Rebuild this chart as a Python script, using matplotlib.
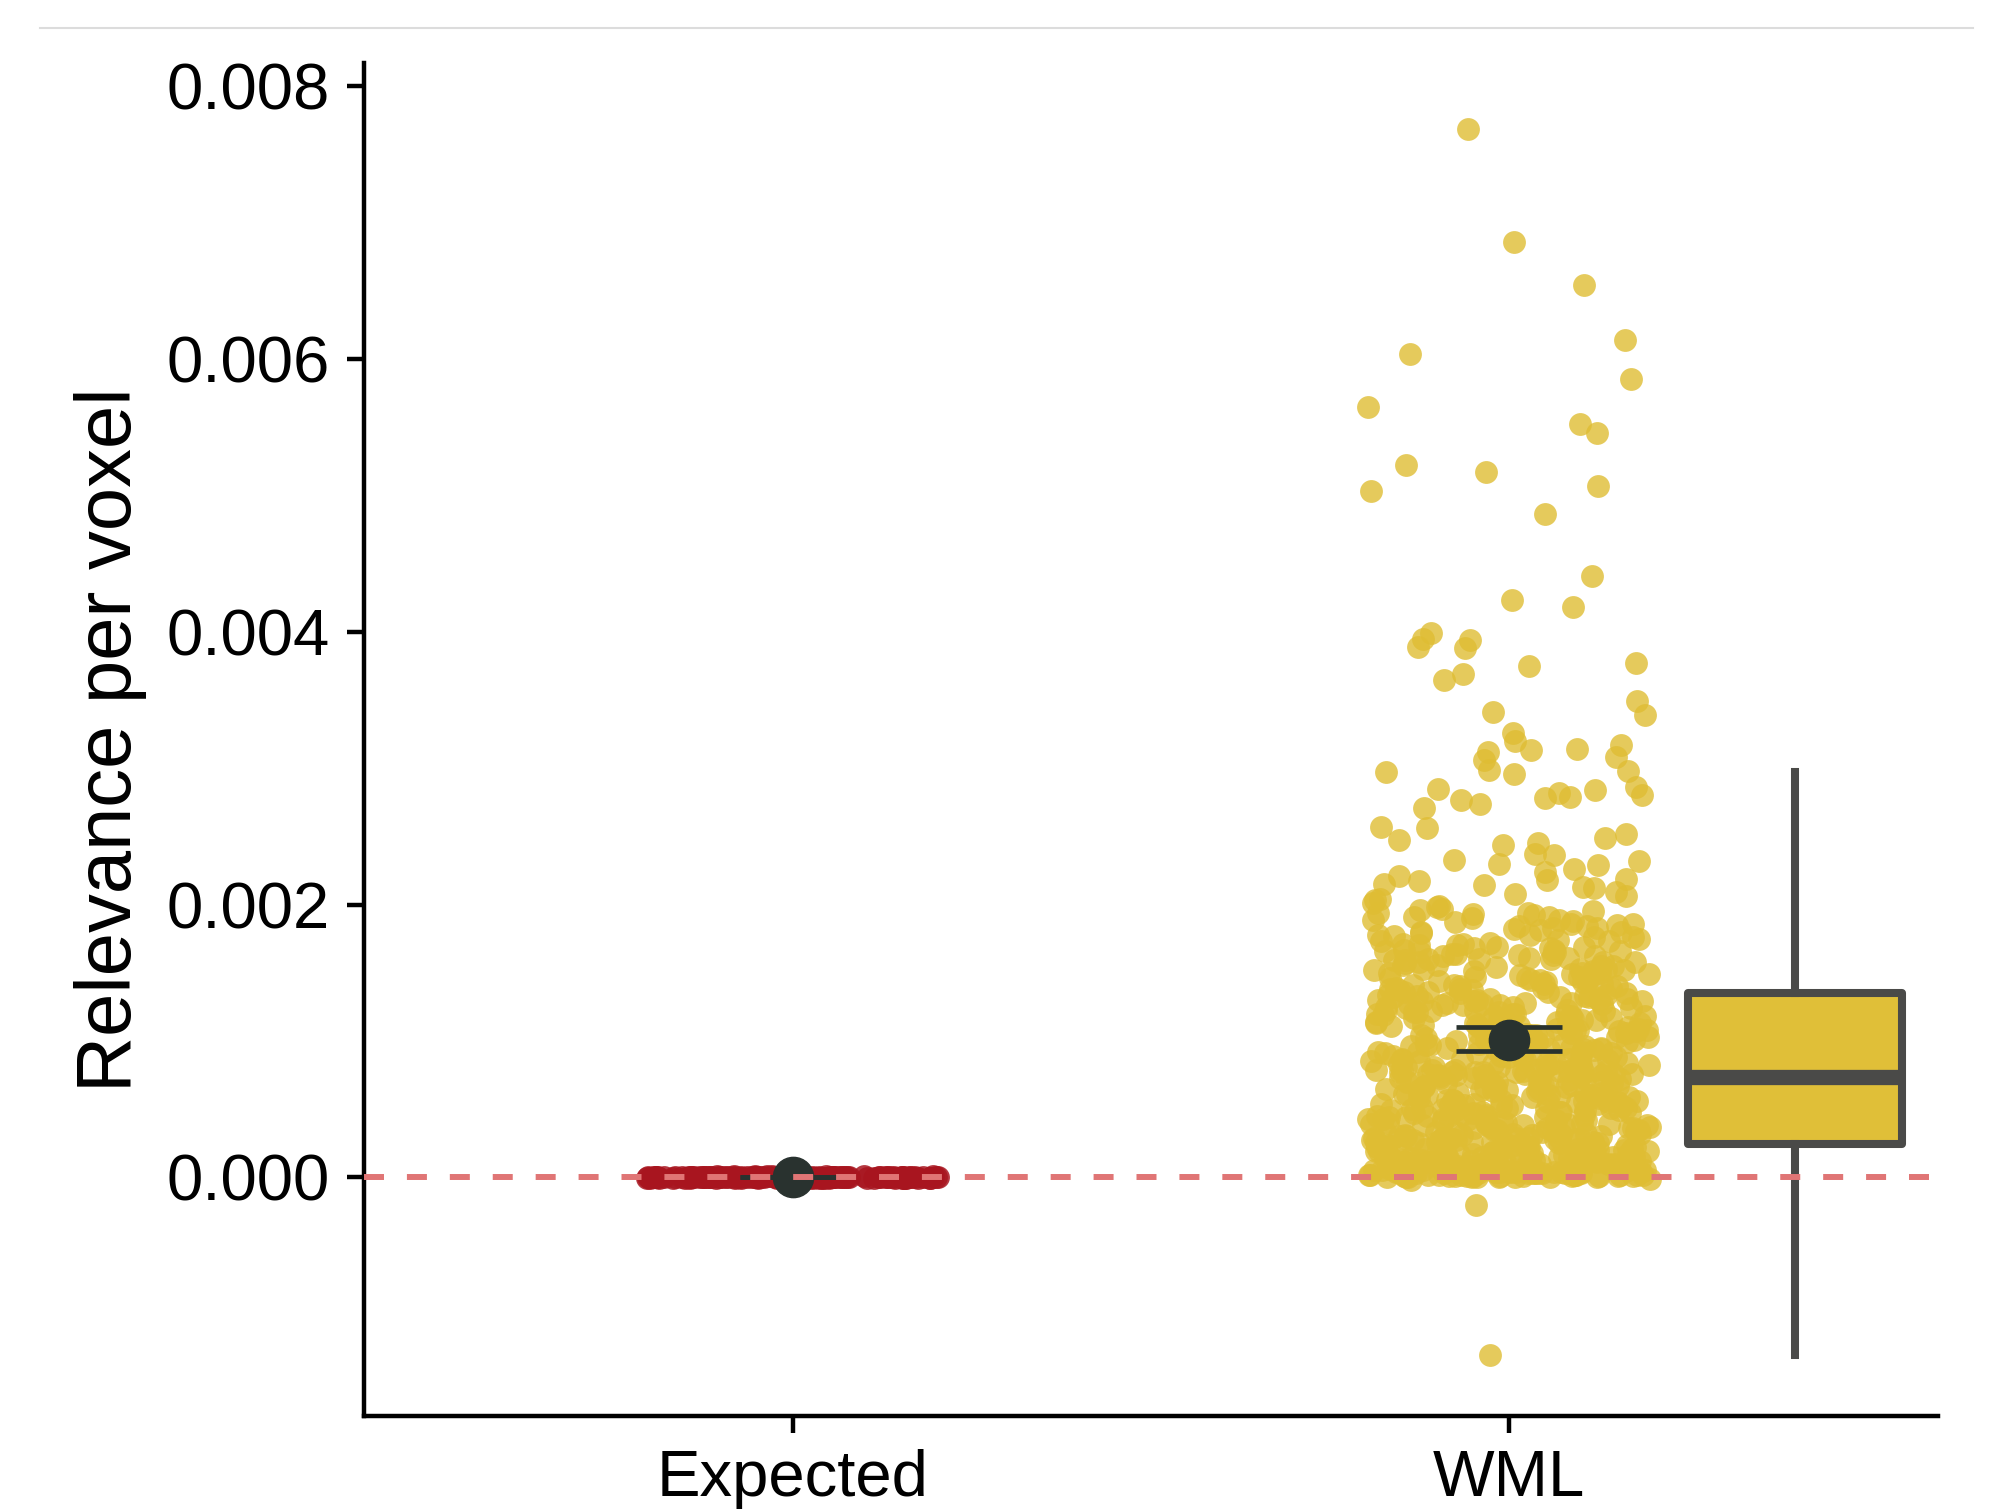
import matplotlib
matplotlib.use('Agg')
import matplotlib.pyplot as plt
import numpy as np
from matplotlib.lines import Line2D
from matplotlib.ticker import FormatStrFormatter

plt.rcParams['font.family'] = ['Liberation Sans', 'DejaVu Sans']

categories = ['Expected', 'WML']

# значения в единицах 1e-4 (потом умножаем)
wml_sparse = [76.9, 68.6, 65.4, 61.4, 60.4, 58.5, 56.5, 55.2, 54.6, 52.2, 51.7, 50.7, 50.3,
              48.6, 44.1, 42.3, 41.8, 39.9, 39.5, 39.4, 38.9, 38.8, 37.7, 37.5, 36.9, 36.5,
              34.9, 34.1, 33.9, 32.6, 32.0, 31.7, 31.4, 31.3, 31.2, 30.8, 30.6, 29.8, 29.7,
              29.9, 29.6, 28.6, 28.5, 28.4, 28.2, 27.9, 27.8, 28.0, 27.7, 27.4, 27.1, 25.7,
              25.6, 25.2, 24.9, 24.7, 24.5, 24.4, 23.7, 23.6, 23.3, 23.2, 23.0, 22.4, 21.8,
              21.7, 21.5, 21.4, 21.3,
              22.9, 22.6, 22.1, 21.9, 21.2, 20.9, 20.8, 20.6, 20.4, 20.3, 20.1, 19.9, 19.8,
              19.6, 19.4, 19.4, 19.2, 19.1, 18.9, 18.9, 18.7, 18.6, 18.4, 18.3, 18.3, 18.1,
              18.0, 17.8, 17.8, 17.6, 17.5, 17.3, 17.3, 17.1, 17.0]

wml_upper = [13.7, 14.2, 15.1, 16.4, 13.9, 14.8, 15.6, 16.9, 14.0, 15.3, 16.1, 13.6, 14.5,
             15.9, 16.7, 14.3, 15.0, 16.2, 13.8, 14.9, 15.5, 16.6, 14.1, 15.2, 16.0, 13.6,
             14.6, 15.8, 16.8, 14.4, 15.4, 16.3, 13.9, 14.7, 15.7, 16.5, 14.2, 15.1, 13.7,
             14.8, 16.0, 15.6, 14.0, 16.9, 13.8, 15.3, 14.5, 16.4, 15.0, 14.3, 13.6, 15.9,
             16.7, 14.6, 15.2, 16.2, 14.1, 15.8, 13.9, 16.5,
             17.2, 18.5, 19.3, 16.1, 17.7, 18.8, 14.4, 15.5, 17.4, 19.0, 16.6, 18.2, 15.0,
             17.9, 19.7, 16.3, 14.7, 18.0, 17.1, 15.8, 19.5, 16.8, 18.6, 14.9, 17.6, 15.3,
             18.4, 16.0, 19.1, 17.0]

wml_mid = [7.6, 9.2, 11.8, 8.3, 12.9, 10.1, 7.9, 13.4, 9.7, 11.2, 8.8, 10.6, 12.3, 7.5, 9.9,
           13.0, 8.1, 11.5, 10.3, 12.7, 7.8, 9.4, 11.0, 8.6, 13.2, 10.8, 7.7, 12.1, 9.0, 11.7,
           8.4, 10.4, 13.5, 7.6, 9.6, 12.5, 8.9, 11.3, 10.0, 7.9, 12.8, 9.3, 11.9, 8.2, 10.7,
           13.1, 7.5, 9.8, 12.2, 8.7, 11.4, 10.2, 7.8, 13.3, 9.1, 11.6, 8.5, 10.9, 12.6, 7.7,
           9.5, 12.0, 8.0, 11.1, 10.5, 13.4, 7.6, 9.2, 12.4, 8.3, 11.8, 10.1, 7.9, 12.9, 9.7,
           11.2, 8.8, 10.6, 13.0, 7.5, 9.9, 12.3, 8.1, 11.5, 10.3, 7.8, 12.7, 9.4, 11.0, 8.6,
           13.2, 10.8, 7.7, 12.1, 9.0, 11.7, 8.4, 10.4, 13.5, 7.6, 9.6, 12.5, 8.9, 11.3, 10.0,
           7.9, 12.8, 9.3, 11.9, 8.2, 10.7, 13.1, 7.5, 9.8, 12.2, 8.7, 11.4, 10.2, 7.8, 13.3,
           9.1, 11.6, 8.5, 10.9, 12.6, 7.7, 9.5, 12.0, 8.0, 11.1, 10.5, 7.6, 12.4, 9.2, 11.8,
           8.3, 10.1, 13.4, 7.9, 9.7, 12.9, 8.8, 11.2, 10.6, 7.5, 12.3, 9.9, 11.5, 8.1, 10.3,
           13.0, 7.8, 9.4, 12.7, 8.6, 11.0, 10.8, 7.7, 12.1,
           8.2, 10.9, 12.6, 9.5, 11.3, 7.8, 13.2, 10.0, 8.7, 12.0, 9.1, 11.7, 10.4, 12.8, 8.4]

wml_low = [2.5, 3.1, 4.6, 6.2, 2.8, 5.3, 7.1, 3.7, 4.2, 6.8, 2.6, 5.9, 3.4, 4.9, 7.3, 2.9,
           5.5, 6.4, 3.2, 4.0, 6.9, 2.7, 5.1, 3.8, 4.4, 7.0, 3.0, 5.7, 6.1, 3.5, 4.7, 2.5,
           6.6, 5.2, 3.9, 7.2, 4.3, 2.8, 5.8, 6.3, 3.3, 4.8, 2.6, 6.0, 5.4, 3.6, 7.4, 4.1,
           2.9, 5.0, 6.7, 3.2, 4.5, 5.6, 2.7, 6.5, 3.8, 4.2, 7.1, 5.1, 3.0, 6.2, 4.9, 2.5,
           5.9, 3.4, 6.8, 4.6, 2.8, 5.3, 7.3, 3.7, 4.0, 6.1, 2.6, 5.5, 3.1, 4.4, 6.9, 5.7,
           3.5, 2.9, 6.4, 4.7, 5.2, 3.9, 7.0, 2.7, 4.3, 6.0, 5.8, 3.3, 4.8, 6.6, 2.5, 5.0,
           3.6, 7.2, 4.1, 5.4, 2.8, 6.3, 3.2, 4.5, 5.6, 6.7, 3.0, 4.9, 2.6, 6.2, 5.1, 3.8,
           7.1, 4.2, 5.9, 2.9, 3.4, 6.5, 4.6, 5.3, 2.7, 6.8, 3.7, 4.0, 5.5, 7.4, 3.1, 4.4,
           6.1, 2.5, 5.7, 3.5, 4.7, 6.9, 5.2, 2.8, 3.9, 6.4, 4.3, 5.8, 3.3, 7.0, 2.6, 4.8,
           6.0, 5.0, 3.6, 4.1, 6.6, 2.9, 5.4, 7.3, 3.2, 4.5,
           3.8, 6.1, 4.9, 2.7, 5.6, 7.0, 3.3, 4.4, 6.5, 5.1, 2.9, 4.0, 6.8, 5.5, 3.6]

wml_bottom = [0.1, 0.3, 0.0, 0.5, 1.2, 0.8, 2.1, 0.2, 1.6, 0.4, 0.9, 1.9, 0.1, 0.6, 2.3, 1.1,
              0.3, 0.7, 1.4, 0.0, 0.2, 1.8, 0.5, 1.0, 2.2, 0.4, 0.8, 1.3, 0.1, 0.6, 1.7, 2.0,
              0.3, 0.9, 1.5, 0.2, 0.0, 1.2, 0.7, 2.4, 0.5, 1.1, 0.1, 1.6, 0.4, 0.8, 1.9, 0.3,
              1.4, 0.6, 2.1, 0.2, 1.0, 0.0, 1.7, 0.9, 0.4, 1.3, 2.3, 0.1, 0.5, 1.8, 0.7, 1.1,
              0.3, 2.0, 0.6, 1.5, 0.2, 0.9, 1.2, 0.0, 1.6, 0.4, 2.2, 0.8, 0.1, 1.4, 0.5, 1.9,
              0.3, 1.0, 0.7, 2.4, 0.2, 1.3, 0.6, 1.7, 0.0, 0.9, 1.1, 0.4, 2.1, 0.8, 1.5, 0.1,
              0.5, 1.8, 0.3, 1.2, 0.6, 2.0, 0.2, 1.0, 0.7, 1.6, 0.4, 2.3, 0.9, 0.0, 1.4, 0.5,
              1.1, 0.1, 1.9, 0.8, 0.3, 1.3, 2.2, 0.6, 1.7, 0.2, 1.0, 0.4, 1.5, 0.7, 2.4, 0.1,
              0.9, 1.2, 0.5, 1.8, 0.3, 2.1, 0.0, 1.4, 0.6, 1.1, 0.2, 1.6, 0.8, 2.0, 0.4, 1.3,
              0.7, 0.1, 1.9, 0.5, 1.0, 2.2, 0.3, 1.7, 0.9, 0.2, 1.5, -0.1, -0.2, 0.0,
              0.6, 1.3, 0.2, 1.9, 0.8, 0.4, 1.5, 2.2, 0.1, 1.0, 0.7, 1.7, 0.3, 2.0, 1.1,
              -2.0, -13.0]

# Expected: почти ноль, в единицах 1e-5
expected_vals = [0.0, 0.4, -0.3, 0.1, 0.6, -0.5, 0.2, -0.1, 0.3, 0.0, -0.4, 0.5, 0.1, -0.2,
                 0.7, -0.6, 0.2, 0.0, -0.3, 0.4, 0.1, -0.1, 0.6, -0.5, 0.3, 0.0, -0.2, 0.5,
                 0.2, -0.4, 0.1, 0.0, -0.6, 0.4, 0.3, -0.1, 0.7, -0.3, 0.2, 0.0, 0.5, -0.5,
                 0.1, -0.2, 0.3, 0.6, -0.4, 0.0, 0.2, -0.1, 0.4, -0.3, 0.1, 0.5, -0.6, 0.0,
                 0.3, -0.2, 0.7, 0.2, -0.4, 0.1, 0.0, -0.5, 0.4, 0.6, -0.1, 0.3, -0.3, 0.2,
                 0.0, 0.5, -0.2, 0.1, -0.6, 0.4, 0.0, 0.3, -0.4, 0.2, 0.1, -0.2, 0.5, 0.0,
                 -0.5, 0.3, 0.2, -0.1, 0.6, -0.3, 0.0, 0.4, -0.6, 0.1, 0.2, -0.4,
                 0.3, -0.1, 0.5, 0.0, -0.3, 0.2, 0.6, -0.5, 0.1, 0.4, -0.2, 0.0]

# среднее и доверительный интервал
means = [0.0, 0.00101]
ci_low = [0.0, 0.000925]
ci_high = [0.0, 0.00110]

# статистика бокса для WML
box_stats = {'med': 0.000733, 'q1': 0.000242, 'q3': 0.00135,
             'whislo': -0.0013, 'whishi': 0.00297, 'fliers': []}

wml = np.array(wml_sparse + wml_upper + wml_mid + wml_low + wml_bottom) * 1e-4
expected = np.array(expected_vals) * 1e-5

yellow = '#DFBD33'
red = '#A8151F'
dark = '#29322F'

fig = plt.figure(figsize=(19.93, 15.12), dpi=100)
ax = fig.add_axes([0.1824, 0.0635, 0.79, 0.8948])

rng = np.random.default_rng(7)
ax.scatter(0 + rng.uniform(-0.205, 0.205, len(expected)), expected, s=270, color=red,
           alpha=0.85, linewidths=0, zorder=2)
ax.scatter(1 + rng.uniform(-0.198, 0.198, len(wml)), wml, s=270, color=yellow,
           alpha=0.8, linewidths=0, zorder=2)

x = np.arange(len(categories))
yerr = [np.array(means) - np.array(ci_low), np.array(ci_high) - np.array(means)]
ax.errorbar(x, means, yerr=yerr, fmt='none', ecolor=dark, elinewidth=3.4,
            capsize=38.5, capthick=3.4, zorder=3)
ax.plot(x, means, 'o', color=dark, markersize=29, zorder=4)

bp = ax.bxp([box_stats], positions=[1.4], widths=0.30, patch_artist=True,
            showfliers=False, showcaps=False,
            boxprops=dict(facecolor='#E0BF38', edgecolor='#4A4A48', linewidth=5.8,
                          joinstyle='round'),
            whiskerprops=dict(color='#4A4A48', linewidth=5.8),
            medianprops=dict(color='#4A4A48', linewidth=11, solid_capstyle='butt'))

lw = 4.3
ax.axhline(0, color='#E07575', linewidth=lw, linestyle=(0, (14.4 / lw, 16.5 / lw)),
           zorder=5)

ax.set_xlim(-0.6, 1.6)
ax.set_ylim(-0.00175, 0.00817)
ax.set_xticks(x)
ax.set_xticklabels(categories)
ax.set_yticks([0, 0.002, 0.004, 0.006, 0.008])
ax.yaxis.set_major_formatter(FormatStrFormatter('%.3f'))

ax.spines['top'].set_visible(False)
ax.spines['right'].set_visible(False)
ax.spines['left'].set_linewidth(3.2)
ax.spines['bottom'].set_linewidth(3.2)
ax.tick_params(axis='both', length=12, width=3.2, labelsize=47, colors='black')
ax.tick_params(axis='y', pad=12)
ax.tick_params(axis='x', pad=12)

ax.set_ylabel('Relevance per voxel', fontsize=56)
ax.yaxis.set_label_coords(-0.1375, 0.5)

# тонкая серая линия сверху
fig.add_artist(Line2D([0.02, 0.99], [1 - 28 / 1512, 1 - 28 / 1512],
                      transform=fig.transFigure, color='#dcdcdc', linewidth=1.5))

fig.savefig('out.png', dpi=100, facecolor='white')
